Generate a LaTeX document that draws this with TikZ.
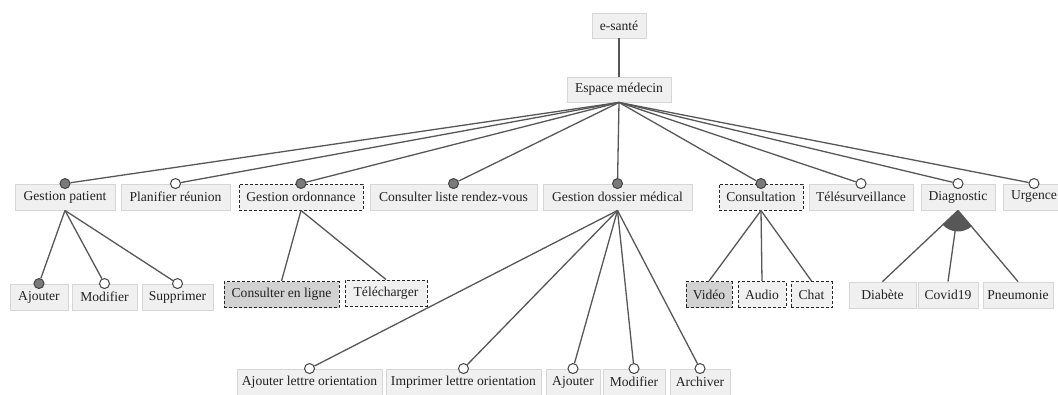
\documentclass[tikz,border=0pt]{standalone}
\usepackage{fontspec}
\setmainfont{Liberation Serif}
\usetikzlibrary{calc}
\definecolor{boxfill}{HTML}{F0F0F0}
\definecolor{boxline}{HTML}{D6D6D6}
\definecolor{selfill}{HTML}{D2D2D2}
\definecolor{linkcol}{HTML}{575757}
\definecolor{dotfill}{HTML}{7A7A7A}
\definecolor{dotline}{HTML}{444444}
\definecolor{txt}{HTML}{222222}
\begin{document}
\begin{tikzpicture}[x=1pt,y=-1pt,
  feature/.style={draw=boxline,fill=boxfill,line width=0.9pt,minimum height=26pt,
    inner sep=0pt,text=txt,font=\fontsize{13.6}{15}\selectfont},
  optbox/.style={feature,draw=black!85,line width=1pt,dash pattern=on 3pt off 2pt},
  picked/.style={fill=selfill},
  link/.style={draw=linkcol,line width=1.3pt},
  mand/.style={circle,draw=dotline,fill=dotfill,line width=1pt,minimum size=10pt,inner sep=0pt},
  opt/.style={circle,draw=dotline,fill=white,line width=1pt,minimum size=10pt,inner sep=0pt}]
\useasboundingbox (0,0) rectangle (1058,394);

% root and main area
\node[feature,minimum width=54pt,minimum height=25pt] (root) at (619,25.5) {e-santé};
\node[feature,minimum width=104pt,minimum height=25pt] (esp) at (619,89.5) {Espace médecin};

% first level
\node[feature,minimum width=100pt] (gp) at (65,197) {Gestion patient};
\node[feature,minimum width=109pt] (pr) at (175.5,197) {Planifier réunion};
\node[optbox,minimum width=124pt] (go) at (301,197) {Gestion ordonnance};
\node[feature,minimum width=167pt] (cl) at (453.5,197) {Consulter liste rendez-vous};
\node[feature,minimum width=149pt] (gd) at (617.5,197) {Gestion dossier médical};
\node[optbox,minimum width=84pt] (co) at (761,197) {Consultation};
\node[feature,minimum width=104pt] (te) at (861,197) {Télésurveillance};
\node[feature,minimum width=74pt] (di) at (958,197) {Diagnostic};
\node[feature,minimum width=62pt] (ur) at (1034,197) {Urgence};

% second level
\node[feature,minimum width=58pt] (aj) at (39,297) {Ajouter};
\node[feature,minimum width=65pt] (mo) at (104.5,297) {Modifier};
\node[feature,minimum width=71pt] (su) at (177.5,297) {Supprimer};
\node[optbox,picked,minimum width=115pt] (cel) at (281.5,294.5) {Consulter en ligne};
\node[optbox,minimum width=82pt] (tel) at (386,293) {Télécharger};
\node[optbox,picked,minimum width=46pt] (vid) at (709,294.5) {Vidéo};
\node[optbox,minimum width=48pt] (aud) at (762,294.5) {Audio};
\node[optbox,minimum width=41pt] (cha) at (811.5,294.5) {Chat};
\node[feature,minimum width=67pt] (dia) at (882.5,295) {Diabète};
\node[feature,minimum width=60pt] (cov) at (948,295) {Covid19};
\node[feature,minimum width=70pt] (pne) at (1018,295) {Pneumonie};

% third level
\node[feature,minimum width=145pt] (alo) at (309.5,382) {Ajouter lettre orientation};
\node[feature,minimum width=155pt] (ilo) at (463.5,382) {Imprimer lettre orientation};
\node[feature,minimum width=54pt] (aj2) at (573,382) {Ajouter};
\node[feature,minimum width=62pt] (mo2) at (634,382) {Modifier};
\node[feature,minimum width=60pt] (ar) at (700,382) {Archiver};

% mandatory / optional markers
\node[mand] (dgp) at (gp.north) {};
\node[opt]  (dpr) at (pr.north) {};
\node[mand] (dgo) at (go.north) {};
\node[mand] (dcl) at (cl.north) {};
\node[mand] (dgd) at (gd.north) {};
\node[mand] (dco) at (co.north) {};
\node[opt]  (dte) at (te.north) {};
\node[opt]  (ddi) at (di.north) {};
\node[opt]  (dur) at (ur.north) {};
\node[mand] (daj) at (aj.north) {};
\node[opt]  (dmo) at (mo.north) {};
\node[opt]  (dsu) at (su.north) {};
\node[opt]  (dalo) at (alo.north) {};
\node[opt]  (dilo) at (ilo.north) {};
\node[opt]  (daj2) at (aj2.north) {};
\node[opt]  (dmo2) at (mo2.north) {};
\node[opt]  (dar) at (ar.north) {};

% connectors
\draw[link] (root.south) -- (esp.north);
\foreach \d in {dgp,dpr,dgo,dcl,dgd,dco,dte,ddi,dur}
  \draw[link] (esp.south) -- (\d);
\foreach \d in {daj,dmo,dsu}
  \draw[link] (gp.south) -- (\d);
\foreach \c in {cel,tel}
  \draw[link] (go.south) -- (\c.north);
\foreach \d in {dalo,dilo,daj2,dmo2,dar}
  \draw[link] (gd.south) -- (\d);
\foreach \c in {vid,aud,cha}
  \draw[link] (co.south) -- (\c.north);
\foreach \c in {dia,cov,pne}
  \draw[link] (di.south) -- (\c.north);

% alternative group sector under Diagnostic
\fill[linkcol] let \p1=($(dia.north)-(di.south)$), \p2=($(pne.north)-(di.south)$),
  \n1={atan2(\y1,\x1)}, \n2={atan2(\y2,\x2)} in
  (di.south) -- ++(\n1:21pt) arc[start angle=\n1, end angle=\n2, radius=21pt] -- cycle;
\end{tikzpicture}
\end{document}
